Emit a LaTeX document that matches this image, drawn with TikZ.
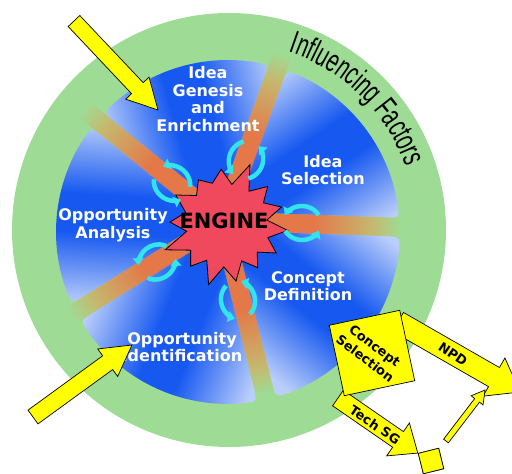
\documentclass[tikz,border=0pt]{standalone}
\usepackage{fontspec}
\setmainfont{DejaVu Sans}
\newfontfamily\inffont[FakeStretch=0.63]{Liberation Sans}
\usetikzlibrary{arrows.meta,decorations.text,calc}
\definecolor{ring}{RGB}{158,220,150}
\definecolor{lb}{RGB}{186,206,250}
\definecolor{db}{RGB}{22,88,240}
\definecolor{spO}{RGB}{228,120,72}
\definecolor{spT}{RGB}{196,186,112}
\definecolor{starc}{RGB}{240,72,92}
\definecolor{cyanc}{RGB}{50,228,236}
\definecolor{ylw}{RGB}{255,255,0}
\pgfdeclarehorizontalshading{sect}{100bp}{color(0bp)=(lb); color(38bp)=(lb); color(47.5bp)=(db); color(52.5bp)=(db); color(62bp)=(lb); color(100bp)=(lb)}
\pgfdeclareradialshading{spokes}{\pgfpoint{0bp}{0bp}}{color(0bp)=(spO); color(12bp)=(spO); color(20bp)=(spT); color(23.5bp)=(ring); color(50bp)=(ring)}
\tikzset{
  seclabel/.style={text=white, font=\bfseries\fontsize{16}{17.5}\selectfont, align=center, inner sep=0pt},
  yarr/.style={draw=black, fill=ylw, line width=0.7pt, line join=miter},
  ylabel/.style={font=\bfseries\fontsize{13}{16}\selectfont, text=black, align=center, inner sep=0pt},
  rotarc/.style={draw=cyanc, line width=4.5pt, -{Triangle[width=11pt,length=7pt]}},
  ybox/.style={draw=black, fill=ylw, line width=0.7pt, inner sep=0pt},
}
\newcommand\fatarrow[5]{%
  \path let \p1=(#1), \p2=(#2) in \pgfextra{%
    \pgfmathsetmacro\myang{atan2(\y2-\y1,\x2-\x1)}%
    \pgfmathsetmacro\mylen{veclen(\x2-\x1,\y2-\y1)}%
    \xdef\faang{\myang}\xdef\falen{\mylen}\xdef\fax{\x1}\xdef\fay{\y1}};
  \begin{scope}[shift={(\fax,\fay)}, rotate=\faang]
    \draw[yarr] (0,-#3/2) -- (\falen-#5,-#3/2) -- (\falen-#5,-#4/2) -- (\falen,0)
      -- (\falen-#5,#4/2) -- (\falen-#5,#3/2) -- (0,#3/2) -- cycle;
  \end{scope}}
\newcommand\rotsym[3]{%
  \begin{scope}[shift={(#1,#2)}, rotate=#3]
    \draw[rotarc] ({19*cos(30)},{17*sin(30)}) arc[start angle=30,end angle=155,x radius=19,y radius=17];
    \draw[rotarc] ({19*cos(210)},{17*sin(210)}) arc[start angle=210,end angle=335,x radius=19,y radius=17];
  \end{scope}}
\def\sx{222}\def\sy{-221}\def\cx{228}\def\cy{-232}\def\RR{172}\def\ww{9.5}\def\rr{14}
\begin{document}
\begin{tikzpicture}[x=1pt,y=1pt]
\useasboundingbox (0,-474) rectangle (512,0);
\clip (0,-474) rectangle (512,0);
% ring
\fill[ring] (229,-230) circle (217);
% spokes
\begin{scope}
  \clip \foreach \a in {-2,70,141,212,284} { (\sx,\sy) ++(\a+90:\ww) -- ++(\a:188) -- ++(\a-90:19) -- ++(\a+180:188) -- cycle };
  \shade[shading=spokes] (\sx,\sy) circle (190);
\end{scope}
% sectors
\foreach \a/\b in {-2/70,70/141,141/212,212/284,284/358}{
  \pgfmathsetmacro\m{(\a+\b)/2}
  \pgfmathsetmacro\sa{\m+90}
  \pgfmathsetmacro\dxA{\sx+\ww*cos(\a+90)-\cx}
  \pgfmathsetmacro\dyA{\sy+\ww*sin(\a+90)-\cy}
  \pgfmathsetmacro\uA{\dxA*cos(\a)+\dyA*sin(\a)}
  \pgfmathsetmacro\tA{-\uA+10*sqrt((\uA/10)^2-(\dxA/10)^2-(\dyA/10)^2+(\RR/10)^2)}
  \pgfmathsetmacro\AxA{\cx+\dxA+\tA*cos(\a)}
  \pgfmathsetmacro\AyA{\cy+\dyA+\tA*sin(\a)}
  \pgfmathsetmacro\BxA{\AxA-\rr*cos(\a)}
  \pgfmathsetmacro\ByA{\AyA-\rr*sin(\a)}
  \pgfmathsetmacro\pA{atan2(\AyA-\cy,\AxA-\cx)+\rr/\RR*57.2958}
  \pgfmathsetmacro\QxA{\cx+\RR*cos(\pA)}
  \pgfmathsetmacro\QyA{\cy+\RR*sin(\pA)}
  \pgfmathsetmacro\dxB{\sx+\ww*cos(\b-90)-\cx}
  \pgfmathsetmacro\dyB{\sy+\ww*sin(\b-90)-\cy}
  \pgfmathsetmacro\uB{\dxB*cos(\b)+\dyB*sin(\b)}
  \pgfmathsetmacro\tB{-\uB+10*sqrt((\uB/10)^2-(\dxB/10)^2-(\dyB/10)^2+(\RR/10)^2)}
  \pgfmathsetmacro\AxB{\cx+\dxB+\tB*cos(\b)}
  \pgfmathsetmacro\AyB{\cy+\dyB+\tB*sin(\b)}
  \pgfmathsetmacro\BxB{\AxB-\rr*cos(\b)}
  \pgfmathsetmacro\ByB{\AyB-\rr*sin(\b)}
  \pgfmathsetmacro\pBraw{atan2(\AyB-\cy,\AxB-\cx)-\rr/\RR*57.2958}
  \pgfmathsetmacro\pB{\pA+mod(\pBraw-\pA+720,360)}
  \pgfmathsetmacro\ix{\sx+\ww/sin((\b-\a)/2)*cos(\m)}
  \pgfmathsetmacro\iy{\sy+\ww/sin((\b-\a)/2)*sin(\m)}
  \begin{scope}
    \clip (\BxA,\ByA) .. controls (\AxA,\AyA) .. (\QxA,\QyA)
      arc[start angle=\pA, end angle=\pB, radius=\RR]
      .. controls (\AxB,\AyB) .. (\BxB,\ByB) -- (\ix,\iy) -- cycle;
    \shade[shading=sect, shading angle=\sa] (\sx-190,\sy-190) rectangle (\sx+190,\sy+190);
  \end{scope}
}
% sector labels
\node[seclabel] (genesis) at (208,-99) {Idea\\Genesis\\and\\Enrichment};
\node[seclabel] (isel) at (323,-170) {Idea\\Selection};
\node[seclabel] (oana) at (113,-225) {Opportunity\\Analysis};
\node[seclabel] (cdef) at (308,-286) {Concept\\Definition};
\node[seclabel] (oid) at (182,-347) {Opportunity\\Identification};
% star
\begin{scope}[shift={(226,-224)}]
\filldraw[fill=starc, draw=black, line width=0.8pt, line join=miter]
  (68:64) -- (55:40) -- (42:56) -- (29.5:43) -- (17:58) -- (5.5:41) -- (-6:62) -- (-18:44)
  -- (-30:58) -- (-42:42) -- (-54:54) -- (-67:40) -- (-80:58) -- (-93:43) -- (-106:63)
  -- (-118:41) -- (-130:55) -- (-143.5:44) -- (-157:66) -- (-169.5:40) -- (178:56)
  -- (164:42) -- (150:58) -- (136:41) -- (122:52) -- (108.5:43) -- (95:55) -- (81.5:40) -- cycle;
\end{scope}
\node[font=\bfseries\fontsize{21}{21}\selectfont, inner sep=0pt] (engine) at (224,-221) {ENGINE};
% rotation symbols
\rotsym{172}{-183}{141}
\rotsym{246}{-160}{70}
\rotsym{302}{-223}{-2}
\rotsym{238}{-300}{-77}
\rotsym{157}{-262}{212}
% influencing factors
\path[decorate, decoration={text along path, text align=center,
   text={|\inffont\fontsize{32}{32}\selectfont|Influencing Factors}}]
   ($(229,-230)+(73:188)$) arc[start angle=73, end angle=18, radius=188];
% big yellow arrows
\coordinate (tl1) at (74,-21); \coordinate (tl2) at (158,-110);
\coordinate (bl1) at (33,-417); \coordinate (bl2) at (132,-345);
\fatarrow{tl1}{tl2}{16}{32}{30}
\fatarrow{bl1}{bl2}{17}{34}{30}
% concept selection group
\coordinate (npd1) at (398,-322); \coordinate (npd2) at (520,-392);
\coordinate (tsg1) at (338,-398);
\node[ybox, minimum size=21pt, rotate=14] (sg) at (431,-461) {};
\fatarrow{npd1}{npd2}{22}{44}{30}
\fatarrow{tsg1}{sg.north west}{19}{40}{24}
\node[ybox, minimum size=72pt, rotate=12] (cs) at (372,-353) {};
\node[ybox, minimum size=21pt, rotate=14] at (sg) {};
\coordinate (th1) at (446,-441); \coordinate (th2) at (485,-390);
\fatarrow{th1}{th2}{6}{15}{13}
\node[ylabel, rotate=-37] (cslabel) at (370,-352) {Concept\\Selection};
\node[ylabel, rotate=-34] (npdlabel) at (453,-354) {NPD};
\node[ylabel, rotate=-34] (tsglabel) at (375,-425) {Tech SG};
\end{tikzpicture}
\end{document}
